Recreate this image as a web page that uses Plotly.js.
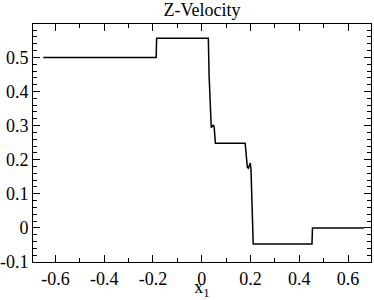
<!DOCTYPE html>
<html>
<head>
<meta charset="utf-8">
<script src="https://cdn.plot.ly/plotly-3.0.1.min.js"></script>
<style>html,body{margin:0;padding:0;background:#fff;}#chart{width:374px;height:300px;}</style>
</head>
<body>
<div id="chart"></div>
<script>
const xPos = [-0.65, -0.187, -0.185, 0.027, 0.030, 0.036, 0.039, 0.043, 0.048, 0.051, 0.056, 0.178, 0.181, 0.187, 0.191, 0.195, 0.199, 0.202, 0.211, 0.452, 0.454, 0.665];
const zVel = [0.5, 0.5, 0.556, 0.556, 0.45, 0.305, 0.294, 0.298, 0.302, 0.295, 0.248, 0.248, 0.22, 0.178, 0.175, 0.186, 0.19, 0.17, -0.047, -0.047, 0, 0];
const xTickVals = [-0.6, -0.4, -0.2, 0, 0.2, 0.4, 0.6];
const xTickText = ["-0.6", "-0.4", "-0.2", "0", "0.2", "0.4", "0.6"];
const yTickVals = [-0.1, 0, 0.1, 0.2, 0.3, 0.4, 0.5];
const yTickText = ["-0.1", "0", "0.1", "0.2", "0.3", "0.4", "0.5"];

const fam = "Liberation Serif";
const tfont = {family: fam, size: 18, color: '#000', weight: 'normal'};
const axisCommon = {
  showgrid: false, zeroline: false, showline: true, linecolor: '#000', linewidth: 1,
  mirror: 'allticks', ticks: 'inside', ticklen: 7, tickcolor: '#000', tickwidth: 1,
  tickfont: tfont
};
const layout = {
  width: 374, height: 300,
  font: {family: fam, size: 18, color: '#000'},
  margin: {l: 33, r: 3, t: 24, b: 38},
  paper_bgcolor: '#fff', plot_bgcolor: '#fff',
  showlegend: false,
  title: {text: 'Z-Velocity', font: {family: fam, size: 18, color: '#000'}, x: 0.54, xanchor: 'center', y: 0.99, yanchor: 'top'},
  xaxis: Object.assign({}, axisCommon, {
    range: [-0.692, 0.694], tickmode: 'array', tickvals: xTickVals, ticktext: xTickText,
    minor: {dtick: 0.1, tick0: 0, ticks: 'inside', ticklen: 4, tickcolor: '#000', tickwidth: 1},
    title: {text: 'x<sub>1</sub>', font: tfont, standoff: 0}
  }),
  yaxis: Object.assign({}, axisCommon, {
    range: [-0.1, 0.598], tickmode: 'array', tickvals: yTickVals, ticktext: yTickText,
    minor: {dtick: 0.02, tick0: 0, ticks: 'inside', ticklen: 4, tickcolor: '#000', tickwidth: 1}
  })
};
Plotly.newPlot('chart', [{
  x: xPos, y: zVel, type: 'scatter', mode: 'lines',
  line: {color: '#000', width: 1.5}
}], layout, {staticPlot: true}).then(function(){
  document.querySelectorAll('#chart text').forEach(function(t){
    t.style.fontFamily = '"Liberation Serif", "DejaVu Serif", serif';
  });
});
</script>
</body>
</html>
